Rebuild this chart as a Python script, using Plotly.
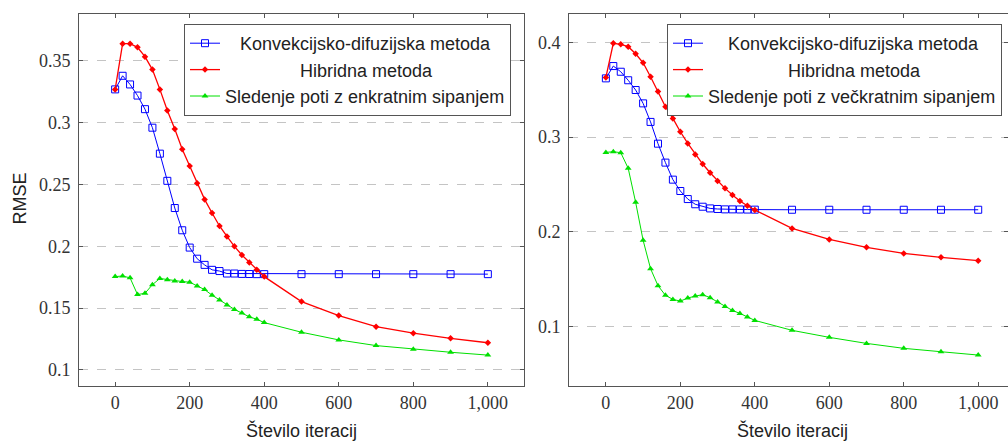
import plotly.graph_objects as go

# ---- data ----
iterations = [0, 20, 40, 60, 80, 100, 120, 140, 160, 180, 200, 220, 240, 260, 280,
              300, 320, 340, 360, 380, 400, 500, 600, 700, 800, 900, 1000]

konv_left = [0.327, 0.338, 0.331, 0.322, 0.311, 0.296, 0.275, 0.253, 0.231, 0.213, 0.199,
             0.190, 0.185, 0.181, 0.180, 0.178, 0.178, 0.1777, 0.1776, 0.1775, 0.1775,
             0.1775, 0.1775, 0.1775, 0.1775, 0.1775, 0.1775]
hib_left = [0.327, 0.364, 0.364, 0.361, 0.3535, 0.343, 0.327, 0.310, 0.295, 0.2785, 0.265,
            0.251, 0.238, 0.227, 0.2165, 0.208, 0.200, 0.193, 0.187, 0.181, 0.1755,
            0.1553, 0.144, 0.135, 0.1297, 0.1256, 0.122]
sled_left = [0.1755, 0.176, 0.1745, 0.161, 0.162, 0.169, 0.174, 0.173, 0.172, 0.1715, 0.171,
             0.168, 0.165, 0.1605, 0.1566, 0.1526, 0.149, 0.146, 0.143, 0.141, 0.1383,
             0.1305, 0.1243, 0.1197, 0.1167, 0.1143, 0.112]

konv_right = [0.362, 0.375, 0.369, 0.360, 0.3497, 0.3356, 0.316, 0.293, 0.273, 0.255, 0.243,
              0.2345, 0.229, 0.2264, 0.2246, 0.224, 0.2236, 0.2236, 0.2235, 0.2234, 0.2233,
              0.2232, 0.2232, 0.2232, 0.2232, 0.2232, 0.2232]
hib_right = [0.363, 0.399, 0.398, 0.3955, 0.388, 0.3785, 0.3637, 0.348, 0.332, 0.3197, 0.3056,
             0.2933, 0.2817, 0.2715, 0.2623, 0.2535, 0.2458, 0.2387, 0.2324, 0.2275, 0.2229,
             0.2035, 0.1919, 0.1835, 0.1771, 0.1729, 0.1694]
sled_right = [0.2838, 0.2845, 0.2835, 0.267, 0.231, 0.191, 0.161, 0.143, 0.1328, 0.1285, 0.1267,
              0.1299, 0.132, 0.1335, 0.1303, 0.1257, 0.1211, 0.1168, 0.1137, 0.1098, 0.1063,
              0.0958, 0.0884, 0.082, 0.0768, 0.0732, 0.0697]

name_konv = "Konvekcijsko-difuzijska metoda"
name_hib = "Hibridna metoda"
name_sled_left = "Sledenje poti z enkratnim sipanjem"
name_sled_right = "Sledenje poti z večkratnim sipanjem"

x_tickvals = [0, 200, 400, 600, 800, 1000]
x_ticktext = ["0", "200", "400", "600", "800", "1,000"]
y_left_tickvals = [0.1, 0.15, 0.2, 0.25, 0.3, 0.35]
y_left_ticktext = ["0.1", "0.15", "0.2", "0.25", "0.3", "0.35"]
y_right_tickvals = [0.1, 0.2, 0.3, 0.4]
y_right_ticktext = ["0.1", "0.2", "0.3", "0.4"]

BLUE = "#0000ff"
RED = "#ff0000"
GREEN = "#00e000"
NB = "\u00a0"

fig = go.Figure()


def add_series(xa, ya, leg, konv, hib, sled, sled_name, pad_k, pad_h):
    fig.add_trace(go.Scatter(
        x=iterations, y=konv, name=NB * pad_k + name_konv, mode="lines+markers",
        line=dict(color=BLUE, width=1),
        marker=dict(symbol="square-open", size=7, color=BLUE, line=dict(width=1)),
        xaxis=xa, yaxis=ya, legend=leg))
    fig.add_trace(go.Scatter(
        x=iterations, y=hib, name=NB * pad_h + name_hib, mode="lines+markers",
        line=dict(color=RED, width=1.3),
        marker=dict(symbol="diamond", size=5, color=RED),
        xaxis=xa, yaxis=ya, legend=leg))
    fig.add_trace(go.Scatter(
        x=iterations, y=sled, name=sled_name, mode="lines+markers",
        line=dict(color=GREEN, width=1),
        marker=dict(symbol="triangle-up", size=6, color=GREEN),
        xaxis=xa, yaxis=ya, legend=leg))


add_series("x", "y", "legend", konv_left, hib_left, sled_left, name_sled_left, 3, 15)
add_series("x2", "y2", "legend2", konv_right, hib_right, sled_right, name_sled_right, 4, 16)

FRAME = "#555555"
tickfont = dict(family="Liberation Serif", size=18, color="#333333")
sans = "Liberation Sans, Arial, Helvetica, sans-serif"

common_x = dict(showline=True, linecolor=FRAME, linewidth=1, mirror="ticks",
                ticks="inside", ticklen=4, tickcolor=FRAME, showgrid=False,
                zeroline=False, tickvals=x_tickvals, ticktext=x_ticktext,
                tickfont=tickfont)
common_y = dict(showline=True, linecolor=FRAME, linewidth=1, mirror="ticks",
                ticks="inside", ticklen=4, tickcolor=FRAME, showgrid=True,
                gridcolor="#c4c4c4", griddash="dash", gridwidth=1,
                zeroline=False, tickfont=tickfont, ticklabelstandoff=4)

W, H = 1008, 441
legend_common = dict(bgcolor="white", bordercolor=FRAME, borderwidth=1,
                     font=dict(family=sans, size=18, color="#222222"),
                     xanchor="right", yanchor="top", y=1 - 24 / H,
                     itemwidth=30, tracegroupgap=0)

fig.update_layout(
    width=W, height=H,
    margin=dict(l=0, r=0, t=0, b=0),
    paper_bgcolor="white", plot_bgcolor="white",
    showlegend=True,
    xaxis=dict(domain=[79 / W, 524 / W], range=[-97, 1097], anchor="y", **common_x),
    yaxis=dict(domain=[1 - 386 / H, 1 - 14 / H], range=[0.087, 0.388], anchor="x",
               tickvals=y_left_tickvals, ticktext=y_left_ticktext, **common_y),
    xaxis2=dict(domain=[569 / W, 1.0], range=[-99, 1080], anchor="y2", **common_x),
    yaxis2=dict(domain=[1 - 386 / H, 1 - 14 / H], range=[0.037, 0.43], anchor="x2",
                tickvals=y_right_tickvals, ticktext=y_right_ticktext, **common_y),
    legend=dict(x=511 / W, **legend_common),
    legend2=dict(x=1002 / W, **legend_common),
    annotations=[
        dict(text="RMSE", xref="paper", yref="paper", x=19.5 / W, y=1 - 199 / H,
             textangle=-90, showarrow=False, xanchor="center", yanchor="middle",
             font=dict(family=sans, size=18, color="#222222")),
        dict(text="Število iteracij", xref="paper", yref="paper", x=301 / W, y=1 - 430 / H,
             showarrow=False, xanchor="center", yanchor="middle",
             font=dict(family=sans, size=18, color="#222222")),
        dict(text="Število iteracij", xref="paper", yref="paper", x=792 / W, y=1 - 430 / H,
             showarrow=False, xanchor="center", yanchor="middle",
             font=dict(family=sans, size=18, color="#222222")),
    ],
)

fig.write_html("out.html", config={"displayModeBar": False},
               post_script="document.body.style.margin='0';document.body.style.overflow='hidden';")
